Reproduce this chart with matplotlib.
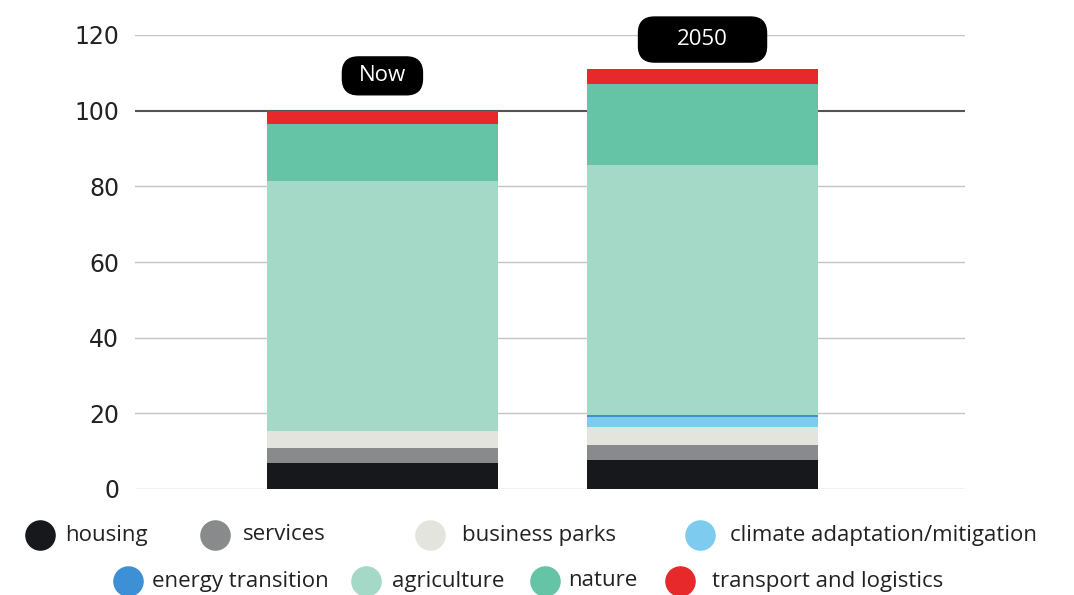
import numpy as np
import matplotlib
matplotlib.use("Agg")
import matplotlib.pyplot as plt
from matplotlib.lines import Line2D
from matplotlib.patches import FancyBboxPatch

plt.rcParams['font.family'] = ['Open Sans', 'DejaVu Sans']

periods = ['Now', '2050']
categories = ['housing', 'services', 'business parks', 'climate adaptation/mitigation',
              'energy transition', 'agriculture', 'nature', 'transport and logistics']
colors = ['#16181c', '#888a8b', '#e4e4df', '#7ecbf0', '#3d8fd6', '#a3d9c6', '#66c4a6', '#e8292b']

housing = [7.0, 7.7]
services = [3.8, 3.9]
business_parks = [4.5, 4.8]
climate = [0.0, 2.6]
energy = [0.0, 0.6]
agriculture = [66.0, 66.0]
nature = [15.3, 21.5]
transport = [3.4, 4.0]

series = [housing, services, business_parks, climate, energy, agriculture, nature, transport]

fig = plt.figure(figsize=(10.74, 5.95), dpi=100)
ax = fig.add_axes([135/1074, 1-489/595, 830/1074, 454/595])

x = np.arange(len(periods))
bottom = np.zeros(len(periods))
for vals, c in zip(series, colors):
    ax.bar(x, vals, bottom=bottom, width=0.72, color=c, zorder=3)
    bottom += np.array(vals)

ax.set_xlim(-0.773, 1.82)
ax.set_ylim(0, 120)
ax.set_yticks(range(0, 121, 20))
for t in range(0, 121, 20):
    ax.axhline(t, color='#555555' if t == 100 else '#c4c4c4', lw=1.5 if t == 100 else 1.0, zorder=1)
ax.set_xticks([])
ax.tick_params(axis='y', length=0, pad=11.5, labelsize=17, labelcolor='#222222',
               labelfontfamily='DejaVu Sans')
for s in ax.spines.values():
    s.set_visible(False)

# period labels in black rounded boxes above each bar
# (box width in x units, box height and centre in y units)
box_w = [0.25, 0.40]
box_h = [10.0, 11.9]
box_y = [109.2, 118.8]
aspect = (120 / 454) / (2.593 / 830)
for xi, name, w, h, yc in zip(x, periods, box_w, box_h, box_y):
    box = FancyBboxPatch((xi - w/2, yc - h/2), w, h,
                         boxstyle='round,pad=0,rounding_size=0.05', mutation_aspect=aspect,
                         fc='black', ec='black', zorder=5, clip_on=False)
    ax.add_patch(box)
    ax.text(xi, yc, name, ha='center', va='center', fontsize=16, color='white', zorder=6,
            clip_on=False)

# legend drawn by hand in two rows
row1 = [(40, 65), (215, 243), (430, 462), (700, 730)]
row2 = [(128, 152), (366, 392), (545, 568), (680, 712)]
positions = [(m, t, 535) for m, t in row1] + [(m, t, 581) for m, t in row2]
for (mx, tx, py), name, c in zip(positions, categories, colors):
    fig.add_artist(Line2D([mx/1074], [1-py/595], marker='o', markersize=21, color=c,
                          linestyle='none', transform=fig.transFigure))
    fig.text(tx/1074, 1-py/595, name, ha='left', va='center', fontsize=16, color='#222222')

fig.savefig('out.png', dpi=100)
